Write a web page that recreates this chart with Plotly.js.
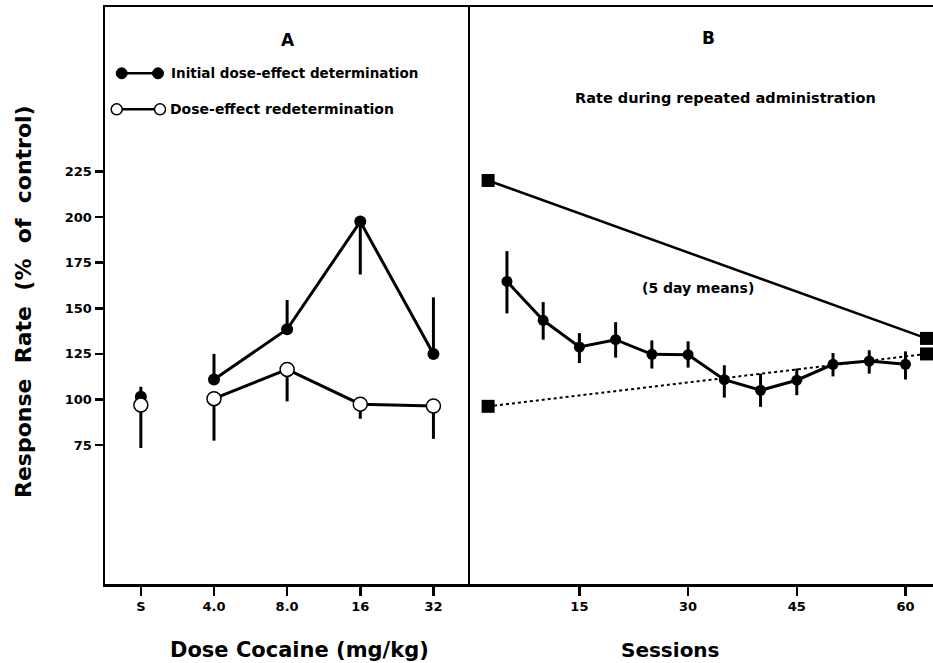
<!DOCTYPE html>
<html>
<head>
<meta charset="utf-8">
<script src="https://cdn.plot.ly/plotly-3.0.1.min.js"></script>
<style>html,body{margin:0;padding:0;background:#fff;}#chart{width:933px;height:663px;}</style>
</head>
<body>
<div id="chart"></div>
<script>
// ---- Panel A: dose-effect ----
const doseLabels = ["S", "4.0", "8.0", "16", "32"];
const doseIndex = [0, 1, 2, 3, 4];
const initialRate = [101.5, 111, 138.5, 197.5, 125];
const initialErrUp = [5.5, 14, 16, 0, 31];
const initialErrDown = [0, 0, 0, 29, 0];
const redetRate = [97, 100.5, 116.5, 97.5, 96.5];
const redetErrUp = [0, 0, 0, 0, 0];
const redetErrDown = [23.5, 23, 17.5, 8, 18];

// ---- Panel B: repeated administration ----
const sessions = [5, 10, 15, 20, 25, 30, 35, 40, 45, 50, 55, 60];
const sessionRate = [164.7, 143.4, 128.8, 132.8, 124.8, 124.6, 110.9, 105.1, 110.6, 119.3, 121.1, 119.3];
const sessionErrUp = [16.6, 10, 7.6, 9.6, 7.6, 7.3, 7.9, 9.1, 6.4, 6.2, 5.9, 7.1];
const sessionErrDown = [17.5, 10.6, 8.8, 9.8, 7.8, 7.1, 9.8, 9.1, 8.2, 6.6, 6.9, 8.3];
const compareSessions = [2.4, 62.9];
const initialPeakRate = [220, 133.5];   // solid line with squares
const salineRate = [96.3, 125];          // dotted line with squares

const yTicks = [75, 100, 125, 150, 175, 200, 225];
const sessionTicks = [15, 30, 45, 60];

const FONT = "DejaVu Sans, Liberation Sans, sans-serif";
const K = "#000";

const errStyle = (up, down) => ({type: "data", symmetric: false, array: up, arrayminus: down,
  width: 0, thickness: 3, color: K});

const traces = [
  {x: doseIndex.slice(0, 1), y: initialRate.slice(0, 1), xaxis: "x", yaxis: "y", mode: "markers",
   marker: {size: 12, color: K}, error_y: errStyle(initialErrUp.slice(0, 1), initialErrDown.slice(0, 1)),
   showlegend: false},
  {x: doseIndex.slice(1), y: initialRate.slice(1), xaxis: "x", yaxis: "y", mode: "lines+markers",
   line: {color: K, width: 3}, marker: {size: 12, color: K},
   error_y: errStyle(initialErrUp.slice(1), initialErrDown.slice(1)), showlegend: false},
  {x: doseIndex.slice(0, 1), y: redetRate.slice(0, 1), xaxis: "x", yaxis: "y", mode: "markers",
   marker: {size: 14, color: "#fff", line: {color: K, width: 1.5}},
   error_y: errStyle(redetErrUp.slice(0, 1), redetErrDown.slice(0, 1)), showlegend: false},
  {x: doseIndex.slice(1), y: redetRate.slice(1), xaxis: "x", yaxis: "y", mode: "lines+markers",
   line: {color: K, width: 3}, marker: {size: 14, color: "#fff", line: {color: K, width: 1.5}},
   error_y: errStyle(redetErrUp.slice(1), redetErrDown.slice(1)), showlegend: false},
  {x: compareSessions, y: salineRate, xaxis: "x2", yaxis: "y2", mode: "lines+markers",
   line: {color: K, width: 2, dash: "dot"}, marker: {symbol: "square", size: 13, color: K}, showlegend: false},
  {x: compareSessions, y: initialPeakRate, xaxis: "x2", yaxis: "y2", mode: "lines+markers",
   line: {color: K, width: 2.5}, marker: {symbol: "square", size: 13, color: K}, showlegend: false},
  {x: sessions, y: sessionRate, xaxis: "x2", yaxis: "y2", mode: "lines+markers",
   line: {color: K, width: 3}, marker: {size: 11, color: K},
   error_y: errStyle(sessionErrUp, sessionErrDown), showlegend: false}
];

const L = 105, W = 828, T = 7, H = 577;
const px = v => (v - L) / W;
const py = v => 1 - (v - T) / H;
const split = px(470);

const axisCommon = {showline: true, linecolor: K, linewidth: 2.5, showgrid: false, zeroline: false,
  ticks: "outside", ticklen: 9, tickwidth: 2.5, tickcolor: K,
  tickfont: {family: FONT, size: 13, color: K, weight: "bold"}};

const ann = (text, x, y, size, extra) => Object.assign({text: text, xref: "paper", yref: "paper",
  x: px(x), y: py(y), xanchor: "center", yanchor: "middle", showarrow: false,
  font: {family: FONT, size: size, color: K, weight: "bold"}}, extra || {});

const layout = {
  width: 933, height: 663,
  margin: {l: L, r: 0, t: T, b: 663 - T - H},
  paper_bgcolor: "#fff", plot_bgcolor: "#fff",
  showlegend: false,
  xaxis: Object.assign({}, axisCommon, {domain: [0, split], range: [-0.49, 4.5],
    tickmode: "array", tickvals: doseIndex, ticktext: doseLabels, mirror: true, anchor: "y"}),
  yaxis: Object.assign({}, axisCommon, {range: [-1, 315], tickmode: "array", tickvals: yTicks,
    ticklen: 8, anchor: "x"}),
  xaxis2: Object.assign({}, axisCommon, {domain: [split, 1], range: [-0.1, 63.8],
    tickmode: "array", tickvals: sessionTicks, mirror: true, anchor: "y2"}),
  yaxis2: Object.assign({}, axisCommon, {range: [-1, 315], ticks: "", showticklabels: false, anchor: "x2"}),
  shapes: [
    {type: "line", xref: "paper", yref: "paper", x0: px(121.7), x1: px(158), y0: py(73.3), y1: py(73.3),
     line: {color: K, width: 2.5}},
    {type: "line", xref: "paper", yref: "paper", x0: px(116.7), x1: px(160), y0: py(109.3), y1: py(109.3),
     line: {color: K, width: 2.5}}
  ],
  annotations: [
    ann("A", 288, 40, 17),
    ann("B", 708, 38, 17),
    ann("Initial dose-effect determination", 169, 73.3, 13.5, {xanchor: "left"}),
    ann("Dose-effect redetermination", 168, 109.3, 14, {xanchor: "left"}),
    ann("Rate during repeated administration", 725, 98, 14.5),
    {text: "(5 day means)", xref: "x2", yref: "y2", x: 31.3, y: 160.9, xanchor: "center", yanchor: "middle",
     showarrow: false, font: {family: FONT, size: 14, color: K, weight: "bold"}},
    ann("Dose Cocaine (mg/kg)", 299, 650, 21),
    ann("Sessions", 670, 650, 20),
    ann("Response  Rate  (%  of  control)", 23, 302, 22, {textangle: -90})
  ]
};

[[121.7, 73.3, true], [158, 73.3, true], [116.7, 109.3, false], [160, 109.3, false]].forEach(([x, y, filled]) => {
  const r = 5.5;
  layout.shapes.push({type: "circle", xref: "paper", yref: "paper", xsizemode: "pixel", ysizemode: "pixel",
    xanchor: px(x), yanchor: py(y), x0: -r, x1: r, y0: -r, y1: r,
    fillcolor: filled ? K : "#fff", line: {color: K, width: filled ? 1 : 1.5}});
});

Plotly.newPlot("chart", traces, layout, {displayModeBar: false, staticPlot: true});
</script>
</body>
</html>
